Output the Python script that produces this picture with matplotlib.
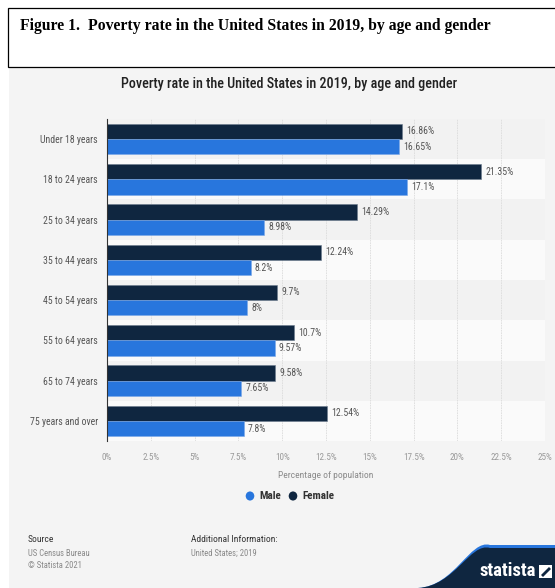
import matplotlib
matplotlib.use("Agg")
import matplotlib.pyplot as plt
import numpy as np
from matplotlib.patches import Rectangle, PathPatch, Polygon
from matplotlib.path import Path

plt.rcParams['font.family'] = ['Roboto Condensed', 'Roboto', 'DejaVu Sans']

# data
categories = ["Under 18 years", "18 to 24 years", "25 to 34 years", "35 to 44 years",
              "45 to 54 years", "55 to 64 years", "65 to 74 years", "75 years and over"]
female = [16.86, 21.35, 14.29, 12.24, 9.7, 10.7, 9.58, 12.54]
male = [16.65, 17.1, 8.98, 8.2, 8.0, 9.57, 7.65, 7.8]
female_labels = ["16.86%", "21.35%", "14.29%", "12.24%", "9.7%", "10.7%", "9.58%", "12.54%"]
male_labels = ["16.65%", "17.1%", "8.98%", "8.2%", "8%", "9.57%", "7.65%", "7.8%"]
xticks = [0, 2.5, 5, 7.5, 10, 12.5, 15, 17.5, 20, 22.5, 25]
xtick_labels = ["0%", "2.5%", "5%", "7.5%", "10%", "12.5%", "15%", "17.5%", "20%", "22.5%", "25%"]

FEMALE_C = "#0f2640"
MALE_C = "#2876dd"
BG = "#f4f4f4"

W, H = 555, 588
fig = plt.figure(figsize=(W / 100, H / 100), dpi=100)
fig.patch.set_facecolor("white")

# gray statista panel
fig.patches.append(Rectangle((9 / W, 0), 1, 1 - 67 / H, transform=fig.transFigure,
                             facecolor=BG, edgecolor="none", zorder=-5))
# figure caption box
fig.patches.append(Rectangle((8 / W, 1 - 67 / H), 1, 59 / H, transform=fig.transFigure,
                             facecolor="white", edgecolor="black", linewidth=0.9, zorder=-4))
fig.text(20 / W, 1 - 26 / H, "Figure 1.  Poverty rate in the United States in 2019, by age and gender",
         family="Liberation Serif", fontweight="bold", fontsize=11.3, va="center", ha="left")

fig.text(289 / W, 1 - 84 / H, "Poverty rate in the United States in 2019, by age and gender",
         fontsize=10.2, fontweight="medium", color="#222222", ha="center", va="center")

ax = fig.add_axes([107 / W, 1 - 441 / H, 438 / W, 322 / H])
ax.set_facecolor(BG)
n = len(categories)
y = np.arange(n)
for i in range(n):
    ax.axhspan(i - 0.5, i + 0.5, color="#f2f2f2" if i % 2 == 0 else "#fafafa", zorder=0, lw=0)

bh = 0.38
ax.barh(y - bh / 2, female, height=bh, color=FEMALE_C, edgecolor="#6a7a8c", linewidth=0.4, zorder=3)
ax.barh(y + bh / 2, male, height=bh, color=MALE_C, edgecolor="#7aa8e8", linewidth=0.4, zorder=3)

for i in range(n):
    ax.annotate(female_labels[i], (female[i], y[i] - bh / 2), xytext=(3, 0), textcoords="offset points",
                va="center", ha="left", fontsize=7, color="#555555")
    ax.annotate(male_labels[i], (male[i], y[i] + bh / 2), xytext=(3, 0), textcoords="offset points",
                va="center", ha="left", fontsize=7, color="#555555")

ax.set_xlim(0, 25)
ax.set_ylim(n - 0.5, -0.5)
ax.set_xticks(xticks)
ax.set_xticklabels(xtick_labels, fontsize=6.6, color="#9a9a9a")
ax.set_yticks(y)
ax.set_yticklabels(categories, fontsize=7.0, color="#555555")
ax.tick_params(axis="x", length=0, pad=9)
ax.tick_params(axis="y", length=0, pad=6.5)
ax.grid(axis="x", color="#dcdcdc", linewidth=0.6, linestyle=(0, (2, 1)), zorder=1)
for s in ["top", "right", "bottom"]:
    ax.spines[s].set_visible(False)
ax.spines["left"].set_color("#333333")
ax.spines["left"].set_linewidth(0.8)
ax.spines["left"].set_zorder(4)
ax.set_xlabel("Percentage of population", fontsize=6.8, color="#8a8a8a", labelpad=6)

# legend
for xc, col, lab in [(250, MALE_C, "Male"), (293, FEMALE_C, "Female")]:
    fig.patches.append(plt.Circle((xc / W, 1 - 496 / H), 4.3 / W, transform=fig.transFigure,
                                  facecolor=col, edgecolor="none"))
    fig.text((xc + 9) / W, 1 - 496 / H, lab, fontsize=8, fontweight="bold", color="#333333",
             va="center", ha="left")

# footer
fig.text(28 / W, 1 - 539 / H, "Source", fontsize=6.8, color="#333333", va="center")
fig.text(28 / W, 1 - 553 / H, "US Census Bureau", fontsize=6.2, color="#8a8a8a", va="center")
fig.text(28 / W, 1 - 565 / H, "\u00a9 Statista 2021", fontsize=6.2, color="#8a8a8a", va="center")
fig.text(191 / W, 1 - 539 / H, "Additional Information:", fontsize=6.8, color="#333333", va="center")
fig.text(191 / W, 1 - 553 / H, "United States; 2019", fontsize=6.2, color="#8a8a8a", va="center")

# statista logo wave
def wave(y_top):
    verts = [(418 / W, 0), (455 / W, 2 / H), (470 / W, (588 - y_top + 6) / H),
             (490 / W, (588 - y_top) / H), (1, (588 - y_top) / H), (1, 0), (418 / W, 0)]
    codes = [Path.MOVETO, Path.CURVE4, Path.CURVE4, Path.CURVE4, Path.LINETO, Path.LINETO, Path.CLOSEPOLY]
    return Path(verts, codes)

fig.patches.append(PathPatch(wave(545), transform=fig.transFigure, facecolor=MALE_C, edgecolor="none"))
fig.patches.append(PathPatch(wave(548), transform=fig.transFigure, facecolor="#0f2640", edgecolor="none"))
fig.text(508 / W, 1 - 571 / H, "statista", fontsize=13.5, fontweight="bold", color="white",
         ha="center", va="center")
# icon: white square split by a dark diagonal
x0, y0, s = 539, 578, 13
fig.patches.append(Polygon([(x0 / W, 1 - y0 / H), ((x0 + s) / W, 1 - y0 / H),
                            ((x0 + s) / W, 1 - (y0 - s) / H), (x0 / W, 1 - (y0 - s) / H)],
                           closed=True, transform=fig.transFigure, facecolor="white", edgecolor="none"))
fig.patches.append(Polygon([((x0 + 2) / W, 1 - (y0 - 3) / H), ((x0 + s - 3) / W, 1 - (y0 - s + 2) / H),
                            ((x0 + s - 1) / W, 1 - (y0 - s + 4) / H), ((x0 + 4) / W, 1 - (y0 - 1) / H)],
                           closed=True, transform=fig.transFigure, facecolor="#0f2640", edgecolor="none"))

fig.savefig("out.png", dpi=100, facecolor=fig.get_facecolor())
